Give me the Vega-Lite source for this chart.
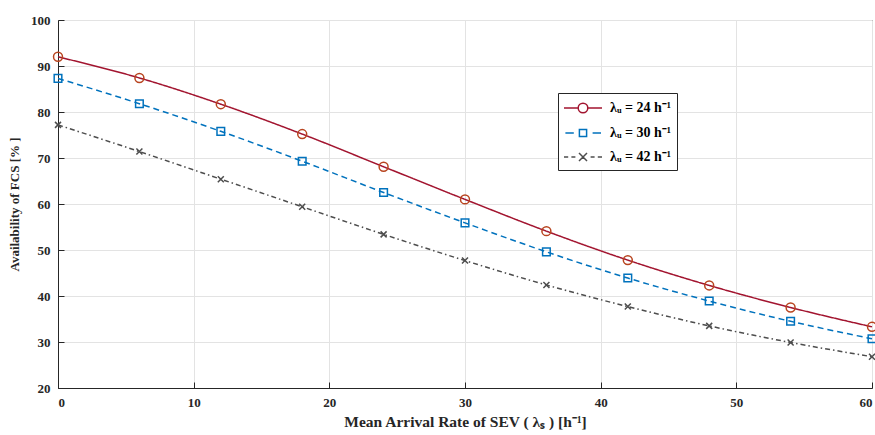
{
  "$schema": "https://vega.github.io/schema/vega-lite/v6.json",
  "width": 814,
  "height": 368,
  "autosize": {"type": "none"},
  "padding": {"left": 58, "top": 20, "right": 3, "bottom": 47},
  "background": "white",
  "config": {
    "font": "Liberation Serif",
    "view": {"stroke": "#262626", "strokeWidth": 1},
    "axis": {
      "labelFont": "Liberation Serif",
      "titleFont": "Liberation Serif",
      "labelFontWeight": "bold",
      "titleFontWeight": "bold",
      "labelFontSize": 13,
      "titleFontSize": 14,
      "labelColor": "#262626",
      "titleColor": "#262626",
      "gridColor": "#e3e3e3",
      "gridWidth": 1,
      "domainColor": "#262626",
      "tickColor": "#262626",
      "tickSize": -6,
      "labelPadding": 14
    }
  },
  "resolve": {"legend": {"shape": "independent", "stroke": "independent", "size": "independent", "strokeDash": "independent"}},
  "data": {
    "values": [
      {"x": 0, "v": 92.0, "s": "24"}, {"x": 6, "v": 87.4, "s": "24"}, {"x": 12, "v": 81.7, "s": "24"}, {"x": 18, "v": 75.2, "s": "24"}, {"x": 24, "v": 68.1, "s": "24"}, {"x": 30, "v": 61.0, "s": "24"}, {"x": 36, "v": 54.1, "s": "24"}, {"x": 42, "v": 47.8, "s": "24"}, {"x": 48, "v": 42.3, "s": "24"}, {"x": 54, "v": 37.5, "s": "24"}, {"x": 60, "v": 33.3, "s": "24"},
      {"x": 0, "v": 87.3, "s": "30"}, {"x": 6, "v": 81.8, "s": "30"}, {"x": 12, "v": 75.8, "s": "30"}, {"x": 18, "v": 69.3, "s": "30"}, {"x": 24, "v": 62.5, "s": "30"}, {"x": 30, "v": 55.9, "s": "30"}, {"x": 36, "v": 49.6, "s": "30"}, {"x": 42, "v": 43.9, "s": "30"}, {"x": 48, "v": 38.9, "s": "30"}, {"x": 54, "v": 34.5, "s": "30"}, {"x": 60, "v": 30.7, "s": "30"},
      {"x": 0, "v": 77.2, "s": "42"}, {"x": 6, "v": 71.4, "s": "42"}, {"x": 12, "v": 65.4, "s": "42"}, {"x": 18, "v": 59.4, "s": "42"}, {"x": 24, "v": 53.4, "s": "42"}, {"x": 30, "v": 47.7, "s": "42"}, {"x": 36, "v": 42.4, "s": "42"}, {"x": 42, "v": 37.7, "s": "42"}, {"x": 48, "v": 33.5, "s": "42"}, {"x": 54, "v": 29.9, "s": "42"}, {"x": 60, "v": 26.8, "s": "42"}
    ]
  },
  "encoding": {
    "x": {
      "field": "x", "type": "quantitative",
      "scale": {"domain": [0, 60], "nice": false},
      "axis": {"values": [0, 10, 20, 30, 40, 50, 60], "title": "Mean Arrival Rate of SEV ( λₛ ) [h⁻¹]", "titlePadding": 5, "titleFontSize": 15.5}
    },
    "y": {
      "field": "v", "type": "quantitative",
      "scale": {"domain": [20, 100], "nice": false},
      "axis": {"values": [20, 30, 40, 50, 60, 70, 80, 90, 100], "title": "Availability of FCS [% ]", "titlePadding": 9, "titleFontSize": 13}
    }
  },
  "layer": [
    {
      "mark": {"type": "line", "strokeWidth": 1.5, "interpolate": "monotone"},
      "encoding": {
        "color": {
          "field": "s", "type": "nominal",
          "scale": {"domain": ["24", "30", "42"], "range": ["#A2142F", "#0072BD", "#4D4D4D"]},
          "legend": {
            "orient": "none", "legendX": 500, "legendY": 73,
            "title": null,
            "labelExpr": "'λᵤ = ' + datum.label + ' h⁻¹'",
            "labelFont": "Liberation Serif", "labelFontWeight": "bold", "labelFontSize": 14,
            "labelColor": "#000", "labelOffset": 18, "symbolOffset": 10,
            "strokeColor": "#262626", "fillColor": "white", "padding": 6,
            "rowPadding": 8, "symbolSize": 256, "symbolStrokeWidth": 1.5,
            "encode": {
              "symbols": {
                "update": {
                  "shape": {"signal": "datum.value === '24' ? 'M-2.375,0L-0.6,0M0.6,0L2.375,0M-0.6,0A0.6,0.6 0 1,1 0.6,0A0.6,0.6 0 1,1 -0.6,0' : datum.value === '30' ? 'M-2.2,0L-1.15,0M1.2,0L2.25,0M-0.45,-0.45L0.45,-0.45L0.45,0.45L-0.45,0.45Z' : 'M-2.375,0L-1.85,0M-1.45,0L-0.95,0M0.95,0L1.45,0M1.85,0L2.375,0M-0.5,-0.5L0.5,0.5M-0.5,0.5L0.5,-0.5'"},
                  "strokeDash": {"value": []},
                  "fill": {"value": "transparent"},
                  "size": {"value": 256},
                  "strokeWidth": {"value": 1.5}
                }
              }
            }
          }
        },
        "strokeDash": {
          "field": "s", "type": "nominal",
          "scale": {"domain": ["24", "30", "42"], "range": [[1, 0], [6, 4], [5, 3, 1.5, 3]]},
          "legend": null
        }
      }
    },
    {
      "mark": {"type": "point", "filled": false, "strokeWidth": 1.5, "opacity": 1},
      "encoding": {
        "stroke": {
          "field": "s", "type": "nominal",
          "scale": {"domain": ["24", "30", "42"], "range": ["#B8441F", "#0072BD", "#4D4D4D"]},
          "legend": null
        },
        "shape": {
          "field": "s", "type": "nominal",
          "scale": {"domain": ["24", "30", "42"], "range": ["circle", "square", "M-1,-1L1,1M-1,1L1,-1"]},
          "legend": null
        },
        "size": {
          "field": "s", "type": "nominal",
          "scale": {"domain": ["24", "30", "42"], "range": [80, 36, 30]},
          "legend": null
        }
      }
    }
  ]
}
